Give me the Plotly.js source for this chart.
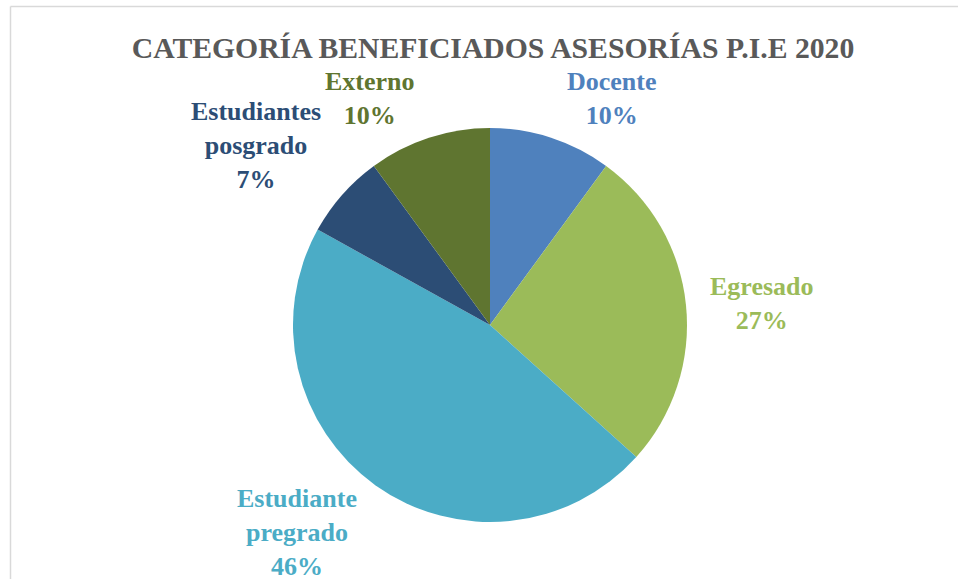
<!DOCTYPE html>
<html>
<head>
<meta charset="utf-8">
<script src="https://cdn.plot.ly/plotly-3.0.1.min.js"></script>
<style>html,body{margin:0;padding:0;background:#fff;}#chart{width:958px;height:579px;}</style>
</head>
<body>
<div id="chart"></div>
<script>
// Data
const categories = ["Docente", "Egresado", "Estudiante pregrado", "Estudiantes posgrado", "Externo"];
const labelLines = ["Docente", "Egresado", "Estudiante<br>pregrado", "Estudiantes<br>posgrado", "Externo"];
const values = [29, 77, 134, 20, 29];
const colors = ["#4F81BD", "#9BBB59", "#4BACC6", "#2C4D75", "#5F7530"];
const titleText = "CATEGORÍA BENEFICIADOS ASESORÍAS P.I.E 2020";

const W = 958, H = 579;
const cx = 490, cy = 325, r = 197;
const total = values.reduce((a, b) => a + b, 0);
const pct = values.map(v => Math.round(v / total * 100) + "%");

// label block centres (pixels)
const labelPos = [[612, 99], [762, 303], [297, 532], [256, 145], [370, 99]];
const FONT = "Liberation Serif, Times New Roman, serif";

const annotations = categories.map((c, i) => ({
  text: "<b>" + labelLines[i] + "<br>" + pct[i] + "</b>",
  xref: "paper", yref: "paper",
  x: labelPos[i][0] / W, y: 1 - labelPos[i][1] / H,
  xanchor: "center", yanchor: "middle", align: "center",
  showarrow: false,
  font: {family: FONT, size: 26, color: colors[i]}
}));

const trace = {
  type: "pie",
  labels: categories,
  values: values,
  sort: false,
  direction: "clockwise",
  rotation: 0,
  marker: {colors: colors, line: {color: "#ffffff", width: 0}},
  textinfo: "none",
  hoverinfo: "label+percent",
  showlegend: false,
  domain: {x: [(cx - r) / W, (cx + r) / W], y: [1 - (cy + r) / H, 1 - (cy - r) / H]}
};

const layout = {
  width: W, height: H,
  margin: {l: 0, r: 0, t: 0, b: 0},
  paper_bgcolor: "#ffffff",
  title: {
    text: "<b>" + titleText + "</b>",
    x: 493 / W, xanchor: "center",
    y: 1 - 48 / H, yanchor: "middle",
    font: {family: FONT, size: 29.7, color: "#595959"}
  },
  annotations: annotations,
  shapes: [
    {type: "line", xref: "paper", yref: "paper", x0: 10.5 / W, x1: 10.5 / W, y0: 0, y1: 1 - 6.5 / H, line: {color: "#d9d9d9", width: 1.5}},
    {type: "line", xref: "paper", yref: "paper", x0: 10.5 / W, x1: 1, y0: 1 - 6.5 / H, y1: 1 - 6.5 / H, line: {color: "#d9d9d9", width: 1.5}}
  ]
};

Plotly.newPlot("chart", [trace], layout, {displayModeBar: false, staticPlot: true});
</script>
</body>
</html>
